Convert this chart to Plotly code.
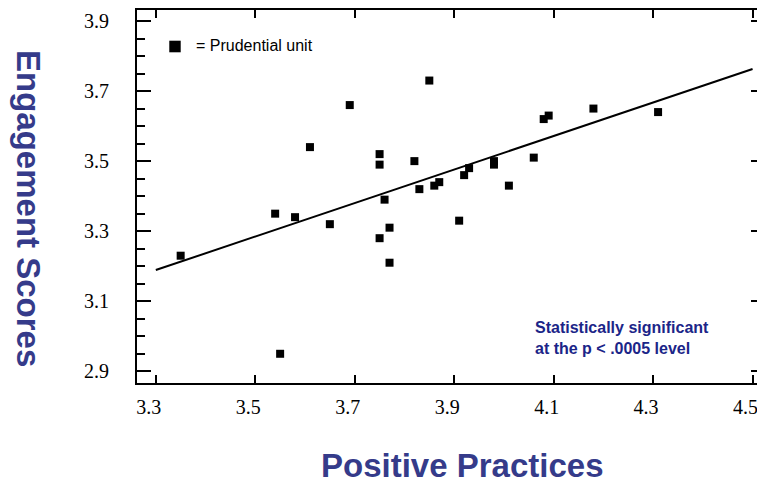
import plotly.graph_objects as go

# Data
positive_practices = [3.35, 3.54, 3.58, 3.65, 3.61, 3.69, 3.75, 3.75, 3.76, 3.75,
                      3.77, 3.77, 3.82, 3.83, 3.85, 3.86, 3.87, 3.91, 3.92, 3.93,
                      3.98, 3.98, 4.01, 4.06, 4.08, 4.09, 4.18, 4.31, 3.55]
engagement_scores = [3.23, 3.35, 3.34, 3.32, 3.54, 3.66, 3.52, 3.49, 3.39, 3.28,
                     3.31, 3.21, 3.50, 3.42, 3.73, 3.43, 3.44, 3.33, 3.46, 3.48,
                     3.50, 3.49, 3.43, 3.51, 3.62, 3.63, 3.65, 3.64, 2.95]
fit_x = [3.3, 4.5]
fit_y = [3.189, 3.763]
x_ticks = [3.3, 3.5, 3.7, 3.9, 4.1, 4.3, 4.5]
y_ticks = [2.9, 3.1, 3.3, 3.5, 3.7, 3.9]

TITLE_COLOR = "#353b8a"
NOTE_COLOR = "#1b2588"

fig = go.Figure()
fig.add_trace(go.Scatter(x=fit_x, y=fit_y, mode="lines",
                         line=dict(color="black", width=2), showlegend=False,
                         hoverinfo="skip"))
fig.add_trace(go.Scatter(x=positive_practices, y=engagement_scores, mode="markers",
                         marker=dict(symbol="square", size=8, color="black"),
                         showlegend=False))

# the page body adds an 8px offset, so the figure is 8px smaller on each side
fig.update_layout(
    width=757, height=476,
    margin=dict(l=129, r=0, t=2, b=101),
    paper_bgcolor="white", plot_bgcolor="white",
    showlegend=False,
    xaxis=dict(range=[3.2622, 4.525], tickvals=x_ticks, ticktext=[f"{v:.1f}" for v in x_ticks],
               ticks="inside", ticklen=8, tickwidth=2, tickcolor="black",
               showline=True, linewidth=2, linecolor="black", mirror="ticks",
               showgrid=False, zeroline=False, automargin=False,
               tickfont=dict(family="Liberation Serif", size=20, color="black"),
               ticklabelshift=-7, ticklabelstandoff=5),
    yaxis=dict(range=[2.8666, 3.9314], tickvals=y_ticks, ticktext=[f"{v:.1f}" for v in y_ticks],
               ticks="inside", ticklen=14, tickwidth=2, tickcolor="black",
               showline=True, linewidth=2, linecolor="black", mirror="ticks",
               showgrid=False, zeroline=False, automargin=False,
               minor=dict(dtick=0.05, tick0=2.9, ticks="inside", ticklen=8, tickwidth=2,
                          tickcolor="black", showgrid=False),
               tickfont=dict(family="Liberation Serif", size=20, color="black"),
               ticklabelstandoff=22),
)

fig.add_annotation(text="Engagement Scores", xref="paper", yref="paper",
                   x=-0.1736, y=0.4665, xanchor="center", yanchor="middle",
                   textangle=90, showarrow=False,
                   font=dict(family="Liberation Sans", size=33, color=TITLE_COLOR, weight="bold"))
fig.add_annotation(text="Positive Practices", xref="paper", yref="paper",
                   x=0.519, y=-0.2225, xanchor="center", yanchor="middle",
                   showarrow=False,
                   font=dict(family="Liberation Sans", size=33, color=TITLE_COLOR, weight="bold"))
fig.add_annotation(text="Statistically significant<br>at the p < .0005 level",
                   xref="paper", yref="paper", x=0.630, y=0.1206,
                   xanchor="left", yanchor="middle", align="left", showarrow=False,
                   font=dict(family="Liberation Sans", size=16, color=NOTE_COLOR, weight="bold"))
fig.add_annotation(text="= Prudential unit", xref="paper", yref="paper",
                   x=0.0905, y=0.906, xanchor="left", yanchor="middle", showarrow=False,
                   font=dict(family="Liberation Sans", size=16, color="black"))
fig.add_shape(type="rect", xref="paper", yref="paper",
              x0=0.0514, x1=0.0696, y0=0.8866, y1=0.9177,
              fillcolor="black", line=dict(width=0))

fig.write_html("out.html")
